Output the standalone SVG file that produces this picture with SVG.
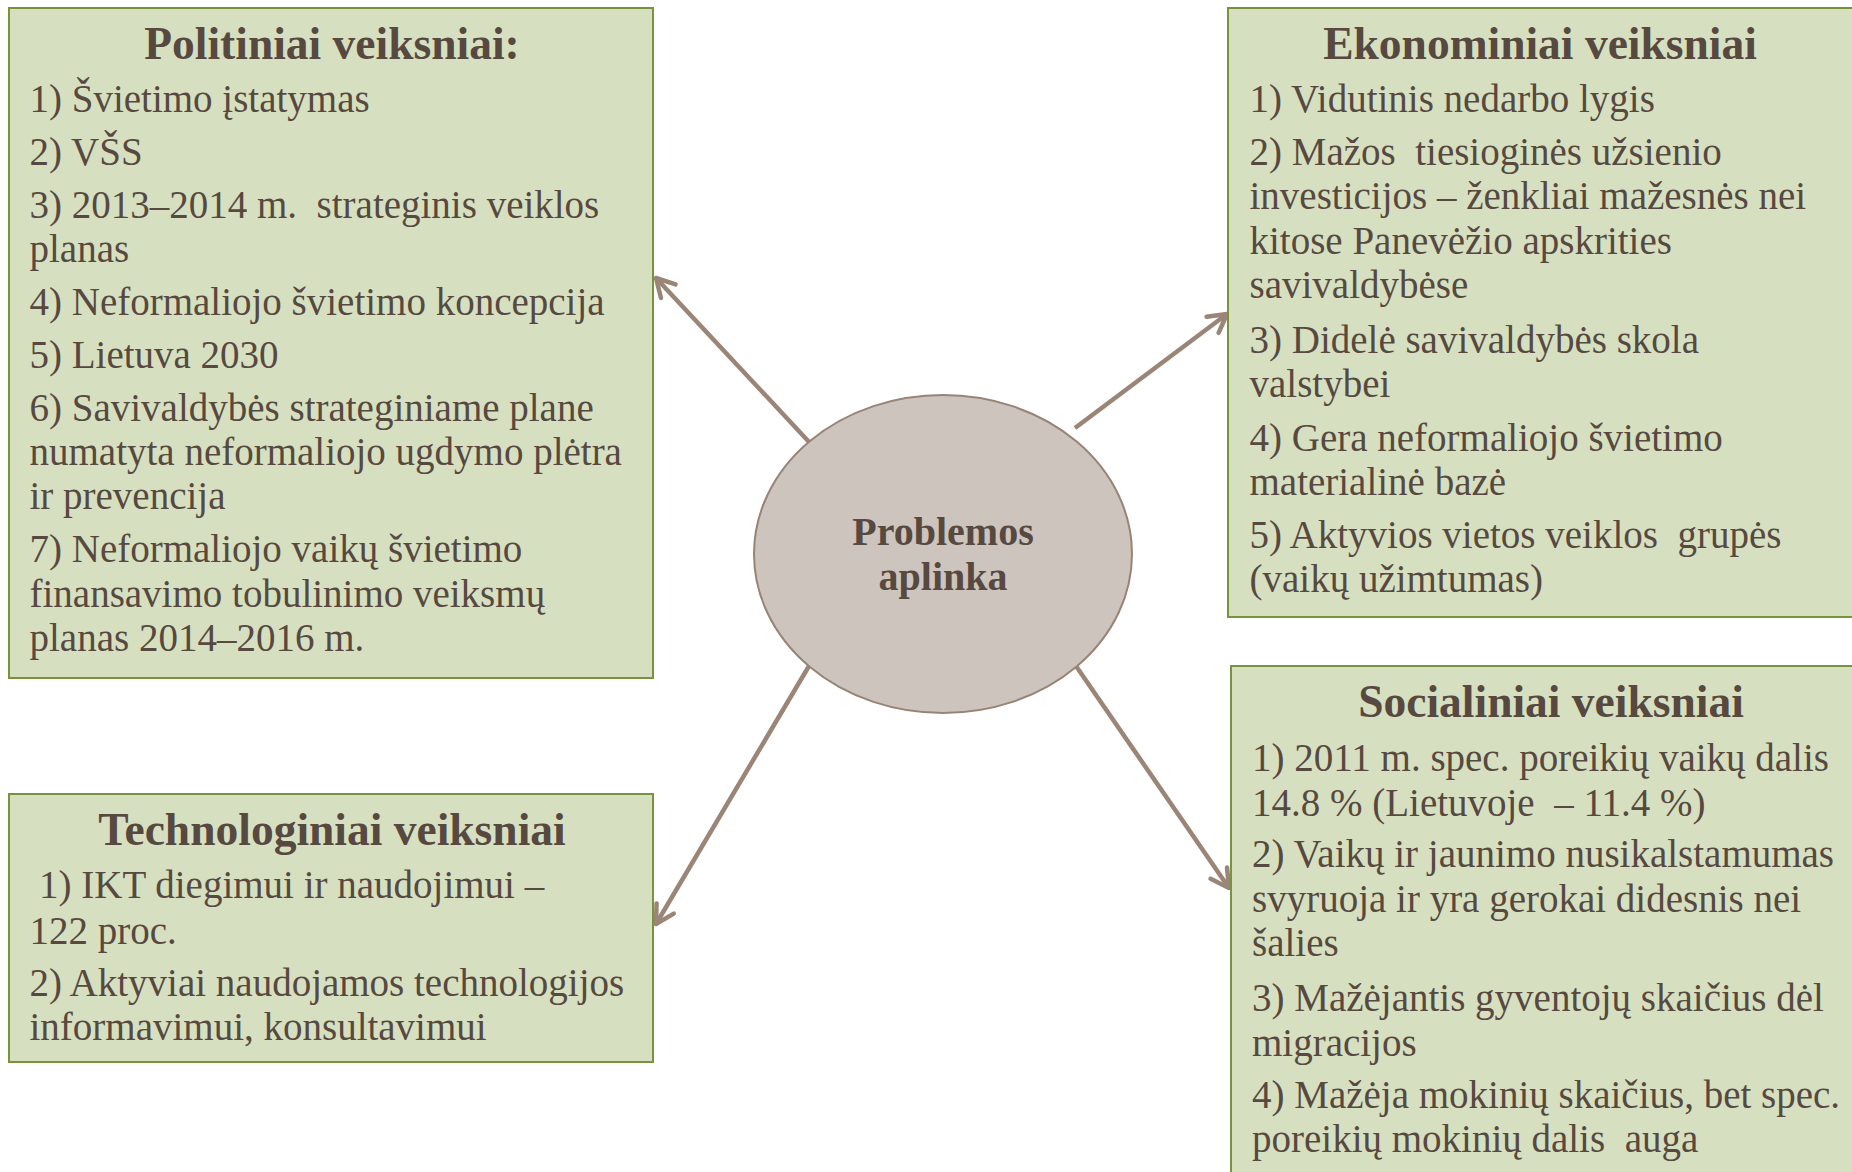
<svg xmlns="http://www.w3.org/2000/svg" width="1852" height="1172" viewBox="0 0 1852 1172" xml:space="preserve">
<style>
.box{fill:#d6e0c1;stroke:#77933c;stroke-width:2}
.t{font-family:"Liberation Serif","Times New Roman",serif;font-size:39px;fill:#574940;white-space:pre}
.h{font-family:"Liberation Serif","Times New Roman",serif;font-size:45.5px;font-weight:bold;fill:#574940;text-anchor:middle}
.c{font-family:"Liberation Serif","Times New Roman",serif;font-size:40px;font-weight:bold;fill:#574940;text-anchor:middle}
.arr{stroke:#9a8577;stroke-width:4.5;fill:none;marker-end:url(#ah)}
</style>
<defs>
<marker id="ah" markerUnits="userSpaceOnUse" markerWidth="26" markerHeight="24" refX="21" refY="12" orient="auto" overflow="visible">
<path d="M3,2 L21,12 L3,22" fill="none" stroke="#9a8577" stroke-width="4.5" stroke-linecap="round" stroke-linejoin="round"/>
</marker>
</defs>
<rect width="1852" height="1172" fill="#ffffff"/>
<g id="connectors">
<line class="arr" x1="810" y1="443" x2="656" y2="278"/>
<line class="arr" x1="1075" y1="428" x2="1227" y2="314"/>
<line class="arr" x1="809" y1="666" x2="656" y2="924"/>
<line class="arr" x1="1076" y1="666" x2="1229" y2="888"/>
</g>
<g id="center">
<ellipse cx="943" cy="554" rx="189" ry="159" fill="#ccc4bd" stroke="#998375" stroke-width="2"/>
<text class="c" x="943" y="545">Problemos</text>
<text class="c" x="943" y="590">aplinka</text>
</g>
<g id="politiniai">
<rect class="box" x="9" y="8" width="644" height="670"/>
<text class="h" x="332" y="59">Politiniai veiksniai:</text>
<text class="t" x="29.5" y="112">1) Švietimo įstatymas</text>
<text class="t" x="29.5" y="165">2) VŠS</text>
<text class="t" x="29.5" y="218">3) 2013–2014 m.  strateginis veiklos</text>
<text class="t" x="29.5" y="262">planas</text>
<text class="t" x="29.5" y="315">4) Neformaliojo švietimo koncepcija</text>
<text class="t" x="29.5" y="368">5) Lietuva 2030</text>
<text class="t" x="29.5" y="421">6) Savivaldybės strateginiame plane</text>
<text class="t" x="29.5" y="465">numatyta neformaliojo ugdymo plėtra</text>
<text class="t" x="29.5" y="509">ir prevencija</text>
<text class="t" x="29.5" y="562">7) Neformaliojo vaikų švietimo</text>
<text class="t" x="29.5" y="607">finansavimo tobulinimo veiksmų</text>
<text class="t" x="29.5" y="651">planas 2014–2016 m.</text>
</g>
<g id="ekonominiai">
<rect class="box" x="1228" y="8" width="640" height="609"/>
<text class="h" x="1540" y="59">Ekonominiai veiksniai</text>
<text class="t" x="1249.5" y="112">1) Vidutinis nedarbo lygis</text>
<text class="t" x="1249.5" y="165">2) Mažos  tiesioginės užsienio</text>
<text class="t" x="1249.5" y="209">investicijos – ženkliai mažesnės nei</text>
<text class="t" x="1249.5" y="254">kitose Panevėžio apskrities</text>
<text class="t" x="1249.5" y="298">savivaldybėse</text>
<text class="t" x="1249.5" y="353">3) Didelė savivaldybės skola</text>
<text class="t" x="1249.5" y="397">valstybei</text>
<text class="t" x="1249.5" y="451">4) Gera neformaliojo švietimo</text>
<text class="t" x="1249.5" y="495">materialinė bazė</text>
<text class="t" x="1249.5" y="548">5) Aktyvios vietos veiklos  grupės</text>
<text class="t" x="1249.5" y="592">(vaikų užimtumas)</text>
</g>
<g id="socialiniai">
<rect class="box" x="1231" y="666" width="640" height="520"/>
<text class="h" x="1551" y="717">Socialiniai veiksniai</text>
<text class="t" x="1252" y="771">1) 2011 m. spec. poreikių vaikų dalis</text>
<text class="t" x="1252" y="816">14.8 % (Lietuvoje  – 11.4 %)</text>
<text class="t" x="1252" y="867">2) Vaikų ir jaunimo nusikalstamumas</text>
<text class="t" x="1252" y="912">svyruoja ir yra gerokai didesnis nei</text>
<text class="t" x="1252" y="956">šalies</text>
<text class="t" x="1252" y="1011">3) Mažėjantis gyventojų skaičius dėl</text>
<text class="t" x="1252" y="1056">migracijos</text>
<text class="t" x="1252" y="1108">4) Mažėja mokinių skaičius, bet spec.</text>
<text class="t" x="1252" y="1152">poreikių mokinių dalis  auga</text>
</g>
<g id="technologiniai">
<rect class="box" x="9" y="794" width="644" height="268"/>
<text class="h" x="332" y="845">Technologiniai veiksniai</text>
<text class="t" x="39" y="898">1) IKT diegimui ir naudojimui –</text>
<text class="t" x="29.5" y="944">122 proc.</text>
<text class="t" x="29.5" y="996">2) Aktyviai naudojamos technologijos</text>
<text class="t" x="29.5" y="1040">informavimui, konsultavimui</text>
</g>
</svg>
